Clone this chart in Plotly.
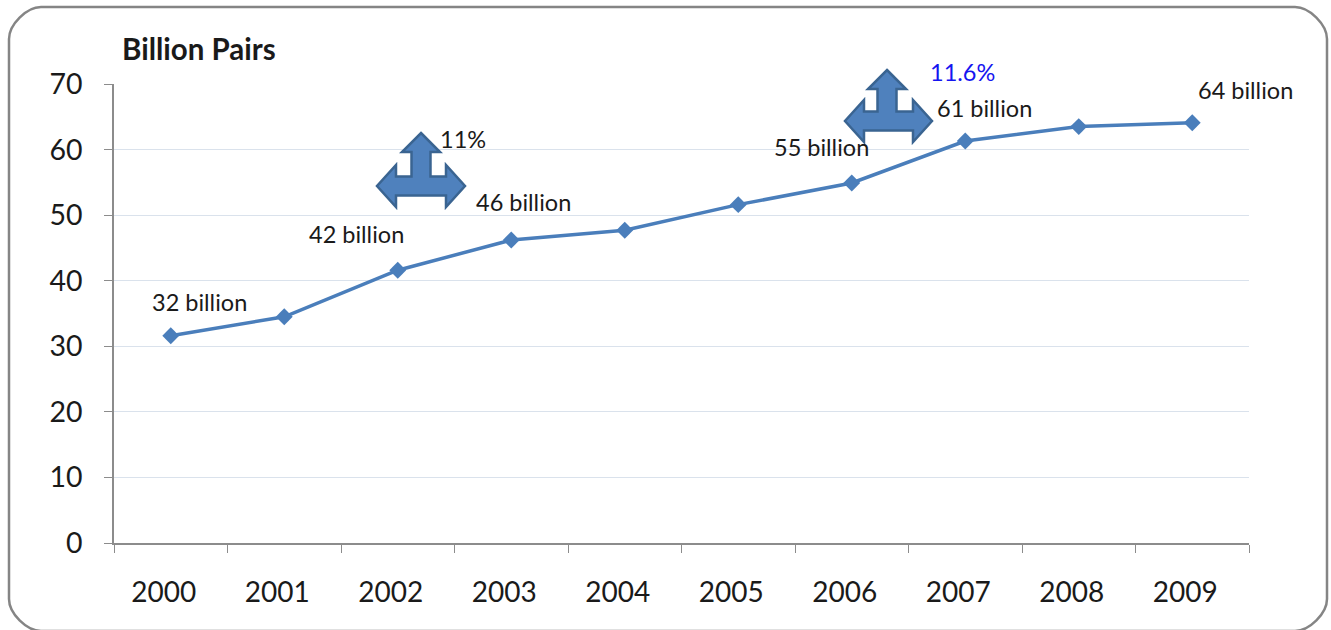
import plotly.graph_objects as go

# ── data ──
years = ["2000", "2001", "2002", "2003", "2004", "2005", "2006", "2007", "2008", "2009"]
pairs = [31.6, 34.5, 41.6, 46.2, 47.7, 51.6, 54.9, 61.3, 63.5, 64.1]

label_idx = [0, 2, 3, 6, 7, 9]
label_text = ["32 billion", "42 billion", "46 billion", "55 billion", "61 billion", "64 billion"]
label_dx = [29, -41, 12, -30, 19, 53]
label_dy = [34, 36, 38, 36, 33, 33]

y_ticks = [0, 10, 20, 30, 40, 50, 60, 70]

# ── style ──
W, H = 1331, 630
L, R, T, B = 114, 1249, 84, 543
LINE = "#4A7EBB"
ARROW_FILL = "#4F81BD"
ARROW_EDGE = "#3A6491"
GRID = "#DAE2EC"
AXIS = "#8C8C8C"
TXT = "#1A1A1A"
FONT = "Lato, 'Open Sans', sans-serif"


def px(x):
    return (x - L) / (R - L)


def py(y):
    return (B - y) / (B - T)


def tri_arrow(cx, top, cy, xl, xr, t=19, hv=19, hh=21, hl=19):
    pts = [
        (cx, top), (cx + hv, top + hl), (cx + t / 2, top + hl), (cx + t / 2, cy - t / 2),
        (xr - hl, cy - t / 2), (xr - hl, cy - hh), (xr, cy), (xr - hl, cy + hh),
        (xr - hl, cy + t / 2), (xl + hl, cy + t / 2), (xl + hl, cy + hh), (xl, cy),
        (xl + hl, cy - hh), (xl + hl, cy - t / 2), (cx - t / 2, cy - t / 2),
        (cx - t / 2, top + hl), (cx - hv, top + hl),
    ]
    d = "M " + " L ".join(f"{px(x):.5f},{py(y):.5f}" for x, y in pts) + " Z"
    return dict(type="path", xref="paper", yref="paper", path=d,
                fillcolor=ARROW_FILL, line=dict(color=ARROW_EDGE, width=2.5), layer="above")


def rounded_box(x0, y0, x1, y1, r):
    k = 0.45 * r
    d = (f"M {px(x0 + r)},{py(y0)} L {px(x1 - r)},{py(y0)} "
         f"C {px(x1 - r + k)},{py(y0)} {px(x1)},{py(y0 + r - k)} {px(x1)},{py(y0 + r)} "
         f"L {px(x1)},{py(y1 - r)} "
         f"C {px(x1)},{py(y1 - r + k)} {px(x1 - r + k)},{py(y1)} {px(x1 - r)},{py(y1)} "
         f"L {px(x0 + r)},{py(y1)} "
         f"C {px(x0 + r - k)},{py(y1)} {px(x0)},{py(y1 - r + k)} {px(x0)},{py(y1 - r)} "
         f"L {px(x0)},{py(y0 + r)} "
         f"C {px(x0)},{py(y0 + r - k)} {px(x0 + r - k)},{py(y0)} {px(x0 + r)},{py(y0)} Z")
    return dict(type="path", xref="paper", yref="paper", path=d,
                line=dict(color="#858585", width=2.5), layer="below")


fig = go.Figure(go.Scatter(
    x=years, y=pairs, mode="lines+markers",
    line=dict(color=LINE, width=3.5),
    marker=dict(symbol="diamond", size=13, color=LINE),
    hoverinfo="x+y", showlegend=False,
))

# data labels (category axis -> position by index)
for i, txt, dx, dy in zip(label_idx, label_text, label_dx, label_dy):
    fig.add_annotation(x=i, y=pairs[i], text=txt, showarrow=False, xanchor="center",
                       xshift=dx, yshift=dy, font=dict(size=23.5, color=TXT, family=FONT))

fig.add_annotation(x=px(463), y=py(139), xref="paper", yref="paper", text="11%",
                   xanchor="center", yanchor="middle",
                   showarrow=False, font=dict(size=23.5, color=TXT, family=FONT))
fig.add_annotation(x=px(962), y=py(72), xref="paper", yref="paper", text="11.6%",
                   xanchor="center", yanchor="middle",
                   showarrow=False, font=dict(size=23.5, color="#1515F0", family=FONT))
fig.add_annotation(x=px(199), y=py(49), xref="paper", yref="paper", text="<b>Billion Pairs</b>",
                   xanchor="center", yanchor="middle",
                   showarrow=False, font=dict(size=29.5, color=TXT, family=FONT))

fig.update_layout(
    width=W, height=H,
    margin=dict(l=L, r=W - R, t=T, b=H - B),
    paper_bgcolor="white", plot_bgcolor="white",
    font=dict(family=FONT, color=TXT),
    xaxis=dict(type="category", range=[-0.5, 9.5], showgrid=False,
               showline=True, linecolor=AXIS, linewidth=1.5,
               ticks="outside", tickson="boundaries", ticklen=8, tickcolor=AXIS,
               tickfont=dict(size=28, color=TXT), ticklabelstandoff=24,
               ticklabelshift=-7, fixedrange=True),
    yaxis=dict(range=[0, 70], tickvals=y_ticks, showgrid=True, gridcolor=GRID, gridwidth=1,
               showline=True, linecolor=AXIS, linewidth=1.5, zeroline=False,
               ticks="outside", ticklen=8, tickcolor=AXIS,
               tickfont=dict(size=28.5, color=TXT), ticklabelstandoff=16, fixedrange=True),
    shapes=[
        rounded_box(9, 7, 1327, 631, 32),
        tri_arrow(421, 133, 186, 377, 465),
        tri_arrow(887, 70, 121, 845, 932),
    ],
)

fig.write_html("out.html", config={"displayModeBar": False},
               post_script="document.body.style.margin='0';")
